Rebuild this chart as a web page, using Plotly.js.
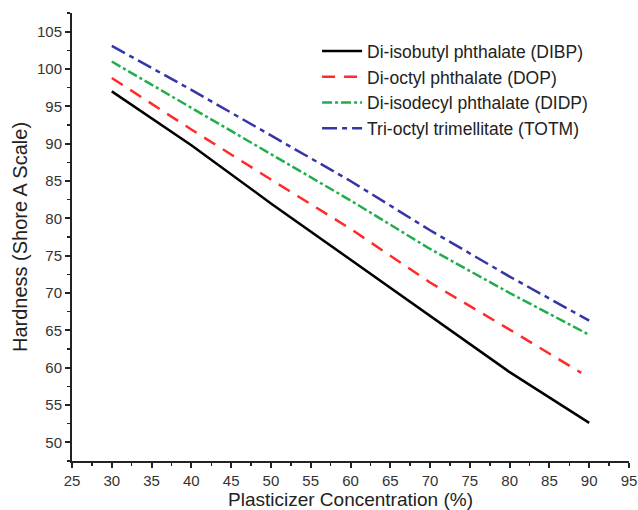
<!DOCTYPE html>
<html>
<head>
<meta charset="utf-8">
<script src="https://cdn.plot.ly/plotly-3.0.1.min.js"></script>
<style>html,body{margin:0;padding:0;background:#fff;}#chart{width:638px;height:510px;}</style>
</head>
<body>
<div id="chart"></div>
<script>
const concentration = [30, 40, 50, 60, 70, 80, 90];
const concentrationDOP = [30, 40, 50, 60, 70, 80, 89];
const hardnessDIBP = [97.0, 89.8, 82.0, 74.5, 67.0, 59.4, 52.6];
const hardnessDOP = [98.8, 91.9, 85.2, 78.6, 71.4, 65.1, 59.3];
const hardnessDIDP = [101.0, 94.8, 88.6, 82.4, 75.9, 70.0, 64.4];
const hardnessTOTM = [103.1, 97.2, 91.1, 85.0, 78.4, 72.2, 66.3];
const seriesNames = ["Di-isobutyl phthalate (DIBP)", "Di-octyl phthalate (DOP)", "Di-isodecyl phthalate (DIDP)", "Tri-octyl trimellitate (TOTM)"];
const xTicks = [25,30,35,40,45,50,55,60,65,70,75,80,85,90,95];
const yTicks = [50,55,60,65,70,75,80,85,90,95,100,105];

const traces = [
  {x: concentration, y: hardnessDIBP, name: seriesNames[0], mode: "lines", line: {color: "#000000", width: 2.5, dash: "solid"}},
  {x: concentrationDOP, y: hardnessDOP, name: seriesNames[1], mode: "lines", line: {color: "#ff2a2a", width: 2.5, dash: "13px,9px"}},
  {x: concentration, y: hardnessDIDP, name: seriesNames[2], mode: "lines", line: {color: "#1fae4a", width: 2.5, dash: "10px,3px,3px,3px"}},
  {x: concentration, y: hardnessTOTM, name: seriesNames[3], mode: "lines", line: {color: "#3535a8", width: 2.5, dash: "15px,5px,5px,5px"}}
];

const fontFam = "Liberation Sans, Arial, sans-serif";
const layout = {
  width: 638, height: 510,
  margin: {l: 72, r: 9, t: 13, b: 49},
  paper_bgcolor: "#ffffff", plot_bgcolor: "#ffffff",
  showlegend: true,
  legend: {x: 0.44, y: 0.955, xanchor: "left", yanchor: "top", bgcolor: "rgba(0,0,0,0)",
           font: {family: fontFam, size: 17.5, color: "#222"}, tracegroupgap: 0, itemwidth: 40},
  xaxis: {
    range: [25, 95], tickvals: xTicks, ticktext: xTicks.map(String),
    showline: true, linecolor: "#222", linewidth: 2, mirror: false,
    ticks: "outside", ticklen: 5, tickwidth: 2, tickcolor: "#222",
    minor: {dtick: 2.5, ticks: "outside", ticklen: 3, tickwidth: 1.5, tickcolor: "#222", showgrid: false},
    showgrid: false, zeroline: false,
    tickfont: {family: fontFam, size: 15, color: "#333"},
    title: {text: "Plasticizer Concentration (%)", font: {family: fontFam, size: 19, color: "#222"}, standoff: 0}
  },
  yaxis: {
    range: [47.5, 107.5], tickvals: yTicks, ticktext: yTicks.map(String),
    showline: true, linecolor: "#222", linewidth: 2, mirror: false,
    ticks: "outside", ticklen: 5, tickwidth: 2, tickcolor: "#222",
    minor: {dtick: 2.5, ticks: "outside", ticklen: 3, tickwidth: 1.5, tickcolor: "#222", showgrid: false},
    showgrid: false, zeroline: false,
    tickfont: {family: fontFam, size: 15, color: "#333"},
    title: {text: "Hardness (Shore A Scale)", font: {family: fontFam, size: 20, color: "#222"}, standoff: 4}
  }
};
Plotly.newPlot("chart", traces, layout, {displayModeBar: false, staticPlot: true});
</script>
</body>
</html>
